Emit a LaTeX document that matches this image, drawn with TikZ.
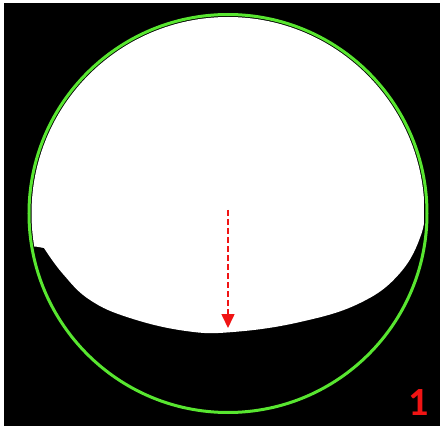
\documentclass[tikz,border=0pt]{standalone}
\usepackage{fontspec,tikz}
\usetikzlibrary{arrows.meta}
\setmainfont{Carlito}
\definecolor{ringgreen}{RGB}{88,230,48}
\definecolor{markred}{RGB}{240,20,20}
\begin{document}
\begin{tikzpicture}[x=1pt,y=-1pt]
\path[use as bounding box] (0,0) rectangle (440.0,428.0);
\fill[black] (4,3) rectangle (440,426);
% white region inside the ring
\begin{scope}
\clip (228,213.5) circle (196.5);
\fill[white] (20,0) -- (20,246) -- (36.7,246.7) -- (44,248)
  -- plot[smooth,tension=0.7] coordinates {(44,248) (63,274) (90,300) (130,318)
  (186,331) (233,332) (300,322) (360,303) (400,273) (421.7,233) (424,205)}
  -- (424,200) -- (440,200) -- (440,0) -- cycle;
\end{scope}
\draw[ringgreen,line width=3pt] (228,213.5) circle (199);
\coordinate (arrowtop) at (228,210);
\coordinate (arrowtip) at (228,328);
\draw[markred,line width=1.6pt,dash pattern=on 6pt off 3pt,-{Triangle[width=13pt,length=14pt]}] (arrowtop) -- (arrowtip);
\node[anchor=base west,inner sep=0pt,text=markred,font=\fontsize{40.0}{48.0}\selectfont \bfseries ] (label) at (408,415) {1};
\end{tikzpicture}
\end{document}
